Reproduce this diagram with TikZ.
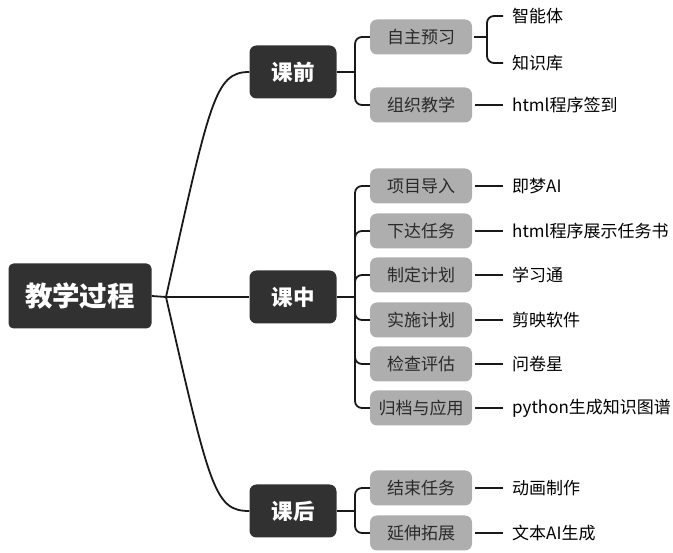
\documentclass[tikz,border=0pt]{standalone}
\usepackage{fontspec}
\setmainfont{Noto Sans CJK SC}
\definecolor{boxdark}{HTML}{313131}
\definecolor{boxgray}{HTML}{AEAEAE}
\definecolor{inkgray}{HTML}{2A2A2A}
\begin{document}
\begin{tikzpicture}[x=1pt,y=-1pt,
    link/.style={line width=1.8pt, black!90},
    rootbox/.style={fill=boxdark, text=white, rounded corners=5pt, minimum width=143pt, minimum height=65pt, font=\bfseries\fontsize{27.5}{30}\selectfont},
    stagebox/.style={fill=boxdark, text=white, rounded corners=7pt, minimum width=87pt, minimum height=53pt, font=\bfseries\fontsize{21.5}{24}\selectfont},
    stepbox/.style={fill=boxgray, text=inkgray, rounded corners=7pt, minimum width=102pt, minimum height=35pt, font=\fontsize{17}{20}\selectfont},
    tool/.style={anchor=west, inner xsep=9pt, inner ysep=2pt, text=black, font=\fontsize{17}{20}\selectfont}]
      \useasboundingbox (0,0) rectangle (673,553);
      \node[rootbox] (root) at (80,296) {教学过程};
      \node[stagebox] (kq) at (293,72) {课前};
      \node[stagebox] (kz) at (293,297) {课中};
      \node[stagebox] (kh) at (293,511) {课后};
      \coordinate (J) at (166,297);
      \draw[link] (root.east) -- (J);
      \draw[link] (J) .. controls (210,100) and (215,72) .. (kq.west);
      \draw[link] (J) -- (kz.west);
      \draw[link] (J) .. controls (210,490) and (215,511) .. (kh.west);

      \coordinate (Jq) at (355,72);
      \coordinate (Jz) at (355,297);
      \coordinate (Jh) at (355,511);
      \draw[link] (kq.east) -- (Jq);
      \draw[link] (kz.east) -- (Jz);
      \draw[link] (kh.east) -- (Jh);

      \node[stepbox] (zx) at (421,37) {自主预习};
      \node[stepbox] (zj) at (421,105) {组织教学};
      \draw[link, rounded corners=7pt] (Jq) |- (zx.west);
      \draw[link, rounded corners=7pt] (Jq) |- (zj.west);
      \node[tool] (znt) at (503,16) {智能体};
      \node[tool] (zsk) at (503,63) {知识库};
      \coordinate (Jx) at (487,37);
      \draw[link, shorten <=2pt] (zx.east) -- (Jx);
      \draw[link, rounded corners=7pt] (Jx) |- (znt.west);
      \draw[link, rounded corners=7pt] (Jx) |- (zsk.west);
      \node[tool] (qd) at (503,105) {html程序签到};
      \draw[link, shorten <=3pt] (zj.east) -- (qd.west);

      \foreach \y/\s/\t [count=\n] in {186/项目导入/即梦AI, 231/下达任务/html程序展示任务书, 275/制定计划/学习通, 320/实施计划/剪映软件, 364/检查评估/问卷星, 408/归档与应用/python生成知识图谱}{
        \node[stepbox] (z\n) at (421,\y) {\s};
        \node[tool] (t\n) at (503,\y) {\t};
        \draw[link, rounded corners=7pt] (Jz) |- (z\n.west);
        \draw[link, shorten <=3pt] (z\n.east) -- (t\n.west);
      }

      \foreach \y/\s/\t [count=\n] in {488/结束任务/动画制作, 533/延伸拓展/文本AI生成}{
        \node[stepbox] (h\n) at (421,\y) {\s};
        \node[tool] (ht\n) at (503,\y) {\t};
        \draw[link, rounded corners=7pt] (Jh) |- (h\n.west);
        \draw[link, shorten <=3pt] (h\n.east) -- (ht\n.west);
      }
    \end{tikzpicture}
\end{document}
